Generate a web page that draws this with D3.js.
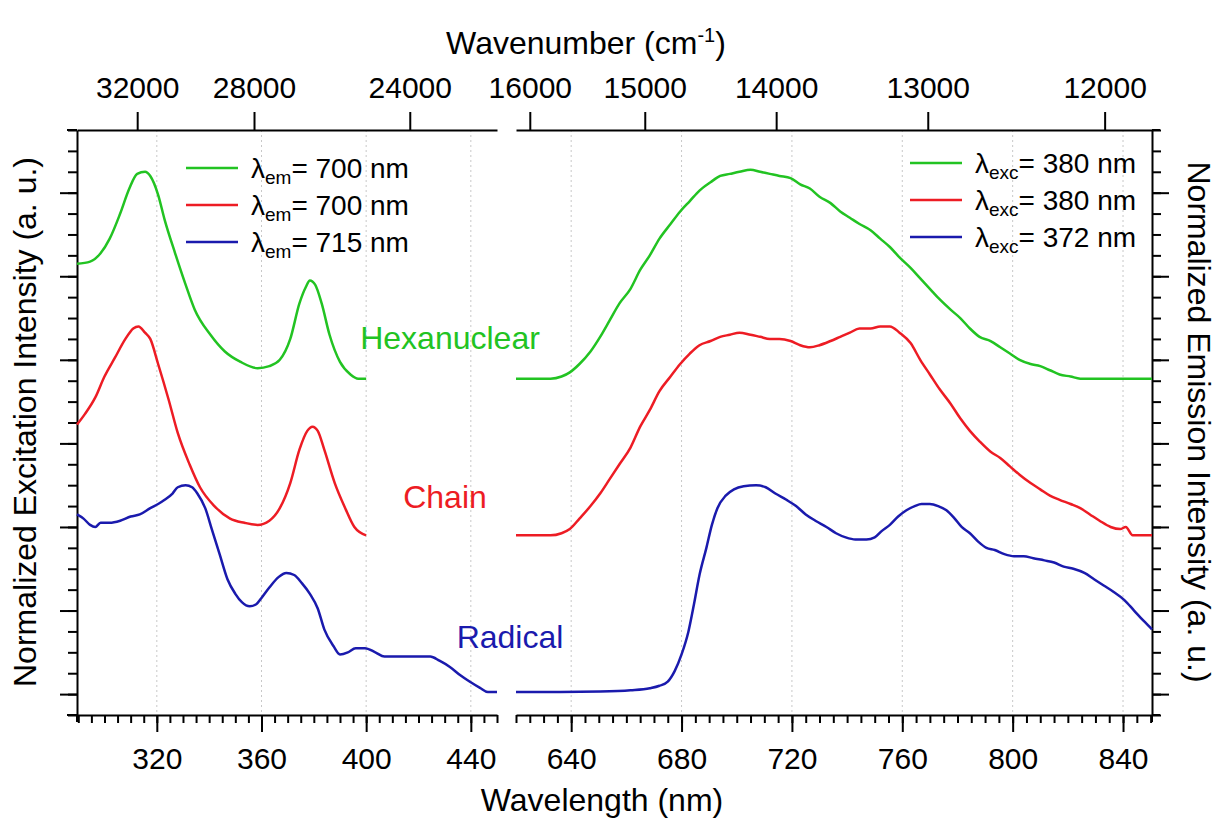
<!DOCTYPE html>
<html>
<head>
<meta charset="utf-8">
<script src="https://cdn.jsdelivr.net/npm/d3@7"></script>
<style>
  body { margin: 0; background: #fff; }
  svg { font-family: "Liberation Sans", Arial, sans-serif; }
  .axis path, .axis line { stroke: #000; stroke-width: 2; }
  .axis text { font-size: 30px; fill: #000; font-family: "Liberation Sans", Arial, sans-serif; }
  .grid line { stroke: #c8c8c8; stroke-width: 1; stroke-dasharray: 2,3; }
</style>
</head>
<body>
<div id="root"></div>
<script>
// excitation spectra (left panel), wavelength in nm / normalized intensity (offset stacked)
var exNmGreen = [289.5,294.5,298.5,302,306,309.5,312.5,315.5,317.5,320.5,323,327,331,334.5,340.5,346,352,358.5,363,367,371,374.5,377,378.5,380.5,383,386,390,394,397,400];
var exGreen = [2.06,2.07,2.11,2.18,2.30,2.42,2.49,2.50,2.48,2.39,2.27,2.11,1.96,1.84,1.72,1.64,1.59,1.56,1.57,1.60,1.70,1.87,1.95,1.98,1.96,1.87,1.72,1.59,1.53,1.51,1.51];

var exNmRed = [289.5,292.5,296.5,300,304,308,311,313,315.5,317.5,320.5,324.5,328,332.5,336.5,342,348,353.5,358.5,363,367,371,374.5,377.5,379.5,381.5,384,388,392,395.5,400];
var exRed = [1.29,1.34,1.42,1.52,1.61,1.70,1.75,1.76,1.73,1.70,1.58,1.41,1.25,1.10,0.99,0.90,0.84,0.82,0.81,0.83,0.89,1.01,1.17,1.26,1.28,1.26,1.17,1.01,0.89,0.80,0.76];

var exNmBlue = [289.5,292,294.5,296.5,298.5,302,306,310,313.5,317.5,320.5,323,326,328,331,333.5,335.5,338.5,341,344,347,350,352.5,355.5,358,360,363,366.5,369.5,372.5,375.5,378.5,381.5,384,387.5,390,393,396,399.5,403.5,407,413,418.5,424.5,428,432,436,439.5,443.5,446.5,450];
var exBlue = [0.86,0.84,0.81,0.80,0.82,0.82,0.83,0.85,0.86,0.89,0.91,0.93,0.96,0.99,1.00,0.99,0.96,0.89,0.79,0.67,0.55,0.48,0.44,0.42,0.43,0.46,0.51,0.56,0.58,0.57,0.53,0.48,0.41,0.31,0.23,0.19,0.20,0.22,0.22,0.20,0.18,0.18,0.18,0.18,0.16,0.13,0.09,0.06,0.03,0.01,0.01];

// emission spectra (right panel)
var emNmGreen = [620,625,632.5,636.5,639.5,643,647,650.5,654,657.5,661.5,665,668.5,672,676,679.5,683,686.5,690.5,694,697.5,701,705,708.5,712,715.5,719.5,723,726.5,730,734,737.5,741,744.5,748.5,752,755.5,759,763,766.5,770,773.5,777.5,781,784.5,788,792,795.5,799,802.5,806.5,810,813.5,817,821,824.5,828,850.5];
var emGreen = [1.51,1.51,1.51,1.52,1.54,1.58,1.64,1.71,1.79,1.87,1.94,2.03,2.10,2.18,2.25,2.31,2.36,2.41,2.45,2.48,2.49,2.50,2.51,2.50,2.49,2.48,2.47,2.44,2.42,2.38,2.35,2.31,2.28,2.25,2.22,2.18,2.14,2.09,2.04,1.99,1.94,1.89,1.84,1.80,1.75,1.71,1.69,1.66,1.63,1.60,1.58,1.57,1.55,1.53,1.52,1.51,1.51,1.51];

var emNmRed = [620,632.5,636.5,639.5,643,647,650.5,654,657.5,661.5,665,668.5,672,676,679.5,683,686.5,690.5,694,697.5,701,705,708.5,712,715.5,719.5,723,726.5,730,734,737.5,741,744.5,748.5,752,755.5,759,763,766.5,770,773.5,777.5,781,784.5,788,792,795.5,799,802.5,806.5,810,813.5,817,821,824.5,828,831.5,835.5,839,841,843.5,850.5];
var emRed = [0.76,0.76,0.77,0.79,0.84,0.90,0.96,1.03,1.10,1.18,1.28,1.36,1.45,1.52,1.58,1.63,1.67,1.69,1.71,1.72,1.73,1.72,1.71,1.70,1.70,1.69,1.67,1.66,1.67,1.69,1.71,1.73,1.75,1.75,1.76,1.76,1.73,1.68,1.60,1.53,1.46,1.39,1.32,1.26,1.21,1.16,1.13,1.09,1.05,1.01,0.98,0.95,0.93,0.91,0.89,0.86,0.83,0.80,0.79,0.80,0.76,0.76];

var emNmBlue = [620,636,650.5,661.5,668.5,672,675,677.5,680,682.5,684.5,686.5,689,691,693,696,699,702.5,707,710.5,714,718,721.5,725,728.5,732.5,736,739.5,743,747,750,752.5,755.5,758.5,761.5,764.5,767,770,773,776,779,781.5,784.5,787.5,790.5,793.5,797,800.5,804,807.5,811.5,815,818.5,822,826,829.5,833,836.5,840.5,844,847.5,850.5];
var emBlue = [0.01,0.01,0.012,0.018,0.028,0.04,0.06,0.11,0.19,0.30,0.43,0.57,0.70,0.81,0.89,0.95,0.98,0.995,1.00,0.99,0.96,0.93,0.90,0.86,0.83,0.80,0.77,0.75,0.74,0.74,0.75,0.78,0.81,0.85,0.88,0.90,0.91,0.91,0.90,0.88,0.84,0.80,0.77,0.73,0.70,0.69,0.67,0.66,0.66,0.65,0.64,0.63,0.61,0.60,0.58,0.55,0.52,0.49,0.45,0.40,0.35,0.31];

// ticks
var nmMajorL = [320,360,400,440];
var nmMajorR = [640,680,720,760,800,840];
var wnTicksL = [32000,28000,24000];
var wnTicksR = [16000,15000,14000,13000,12000];
var yMajor = [0,0.4,0.8,1.2,1.6,2.0,2.4];

var legendExc = ["700","700","715"];
var legendEm = ["380","380","372"];
var sampleNames = ["Hexanuclear","Chain","Radical"];
var colors = ["#22c322","#ed1c24","#1a1aad"];

var w = 1219, h = 821;
var svg = d3.select("#root").append("svg").attr("width", w).attr("height", h);

var xL = d3.scaleLinear().domain([289.5, 450]).range([77, 497]);
var xR = d3.scaleLinear().domain([620, 850.5]).range([516, 1152]);
var y = d3.scaleLinear().domain([-0.1, 2.7]).range([715, 130]);

var minorL = d3.range(290, 451, 5);
var minorR = d3.range(620, 851, 5);
var yMinor = d3.range(-0.1, 2.75, 0.1).map(function(d) { return Math.round(d * 10) / 10; });

// dotted grid
var grid = svg.append("g").attr("class", "grid");
grid.selectAll("line.l").data(nmMajorL).enter().append("line").attr("class", "l")
  .attr("x1", xL).attr("x2", xL).attr("y1", 130).attr("y2", 715);
grid.selectAll("line.r").data(nmMajorR).enter().append("line").attr("class", "r")
  .attr("x1", xR).attr("x2", xR).attr("y1", 130).attr("y2", 715);

// bottom axes
function drawBottom(scale, major, minor) {
  svg.append("g").attr("class", "axis").attr("transform", "translate(0,715)")
    .call(d3.axisBottom(scale).tickValues(minor).tickSize(8).tickSizeOuter(0).tickFormat(""));
  svg.append("g").attr("class", "axis").attr("transform", "translate(0,715)")
    .call(d3.axisBottom(scale).tickValues(major).tickSize(17).tickSizeOuter(0).tickPadding(16))
    .select(".domain").remove();
}
drawBottom(xL, nmMajorL, minorL);
drawBottom(xR, nmMajorR, minorR);

// top axes (wavenumber)
function drawTop(scale, wn) {
  svg.append("g").attr("class", "axis").attr("transform", "translate(0,130)")
    .call(d3.axisTop(scale).tickValues(wn.map(function(d) { return 1e7 / d; }))
      .tickSize(18).tickSizeOuter(0).tickPadding(14)
      .tickFormat(function(d) { return Math.round(1e7 / d); }));
}
drawTop(xL, wnTicksL);
drawTop(xR, wnTicksR);

// y axes
function drawY(axisFn, xpos) {
  svg.append("g").attr("class", "axis").attr("transform", "translate(" + xpos + ",0)")
    .call(axisFn(y).tickValues(yMinor).tickSize(9).tickSizeOuter(0).tickFormat(""));
  svg.append("g").attr("class", "axis").attr("transform", "translate(" + xpos + ",0)")
    .call(axisFn(y).tickValues(yMajor).tickSize(17).tickSizeOuter(0).tickFormat(""))
    .select(".domain").remove();
}
drawY(d3.axisLeft, 77);
drawY(d3.axisRight, 1152);

// small overhangs of the frame corners
var frame = svg.append("g").attr("stroke", "#000").attr("stroke-width", 2);
frame.append("line").attr("x1", 67).attr("x2", 77).attr("y1", 130).attr("y2", 130);
frame.append("line").attr("x1", 67).attr("x2", 77).attr("y1", 715).attr("y2", 715);
frame.append("line").attr("x1", 77).attr("x2", 77).attr("y1", 715).attr("y2", 722);
frame.append("line").attr("x1", 1152).attr("x2", 1160).attr("y1", 130).attr("y2", 130);
frame.append("line").attr("x1", 1152).attr("x2", 1160).attr("y1", 715).attr("y2", 715);
frame.append("line").attr("x1", 1152).attr("x2", 1152).attr("y1", 715).attr("y2", 722);

// spectra
var lineL = d3.line().x(function(d) { return xL(d[0]); }).y(function(d) { return y(d[1]); }).curve(d3.curveMonotoneX);
var lineR = d3.line().x(function(d) { return xR(d[0]); }).y(function(d) { return y(d[1]); }).curve(d3.curveMonotoneX);

var exSeries = [d3.zip(exNmGreen, exGreen), d3.zip(exNmRed, exRed), d3.zip(exNmBlue, exBlue)];
var emSeries = [d3.zip(emNmGreen, emGreen), d3.zip(emNmRed, emRed), d3.zip(emNmBlue, emBlue)];

svg.selectAll("path.ex").data(exSeries).enter().append("path").attr("class", "ex")
  .attr("d", lineL).attr("fill", "none").attr("stroke-width", 2.5)
  .attr("stroke", function(d, i) { return colors[i]; });
svg.selectAll("path.em").data(emSeries).enter().append("path").attr("class", "em")
  .attr("d", lineR).attr("fill", "none").attr("stroke-width", 2.5)
  .attr("stroke", function(d, i) { return colors[i]; });

// legends
function legend(x0, y0, sub, vals) {
  vals.forEach(function(v, i) {
    var yy = y0 + i * 37;
    svg.append("line").attr("x1", x0).attr("x2", x0 + 52).attr("y1", yy).attr("y2", yy)
      .attr("stroke", colors[i]).attr("stroke-width", 2.5);
    var t = svg.append("text").attr("x", x0 + 65).attr("y", yy + 10).style("font-size", "28px");
    t.append("tspan").text("λ");
    t.append("tspan").attr("dy", 6).style("font-size", "19px").text(sub);
    t.append("tspan").attr("dy", -6).text("= " + v + " nm");
  });
}
legend(186, 168, "em", legendExc);
legend(910, 163, "exc", legendEm);

// sample labels
var labelPos = [[450, 349], [445, 508], [510, 648]];
sampleNames.forEach(function(s, i) {
  svg.append("text").attr("x", labelPos[i][0]).attr("y", labelPos[i][1])
    .attr("text-anchor", "middle").style("font-size", "32px").attr("fill", colors[i]).text(s);
});

// axis titles
var tt = svg.append("text").attr("x", 586).attr("y", 54).attr("text-anchor", "middle").style("font-size", "32px");
tt.append("tspan").text("Wavenumber (cm");
tt.append("tspan").attr("dy", -12).style("font-size", "20px").text("-1");
tt.append("tspan").attr("dy", 12).text(")");

svg.append("text").attr("x", 602).attr("y", 811).attr("text-anchor", "middle").style("font-size", "32px").text("Wavelength (nm)");
svg.append("text").attr("transform", "translate(36,422) rotate(-90)").attr("text-anchor", "middle")
  .style("font-size", "32px").text("Normalized Excitation Intensity (a. u.)");
svg.append("text").attr("transform", "translate(1188,422) rotate(90)").attr("text-anchor", "middle")
  .style("font-size", "32px").text("Normalized Emission Intensity (a. u.)");
</script>
</body>
</html>
